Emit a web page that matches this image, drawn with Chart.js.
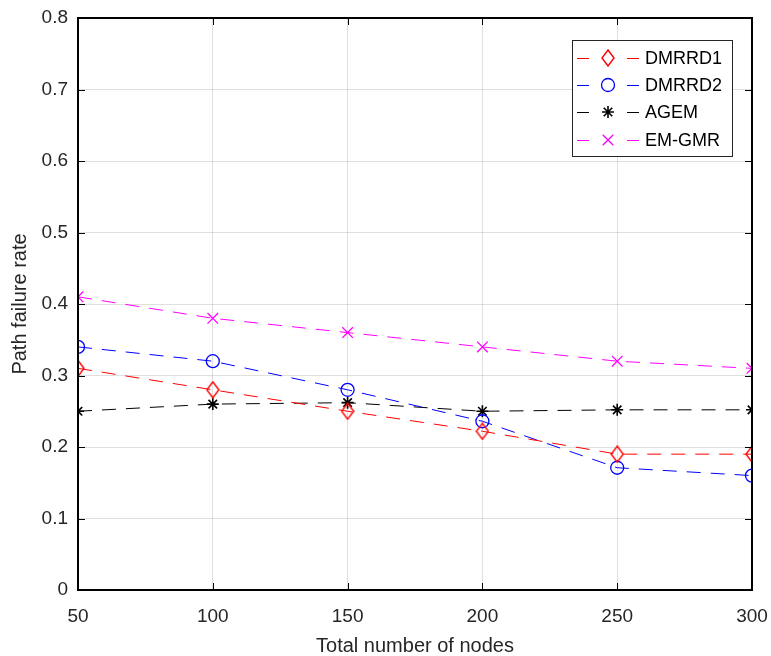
<!DOCTYPE html>
<html>
<head>
<meta charset="utf-8">
<script src="https://cdn.jsdelivr.net/npm/chart.js@4/dist/chart.umd.min.js"></script>
<style>
  html, body { margin: 0; padding: 0; background: #fff; }
  #wrap { width: 771px; height: 656px; }
</style>
</head>
<body>
<div id="wrap"><canvas id="c" width="771" height="656"></canvas></div>
<script>
// Node counts on the x axis
const nodes = [50, 100, 150, 200, 250, 300];

// Path failure rate per routing scheme
const dmrrd1 = [0.31, 0.28, 0.25, 0.222, 0.19, 0.19];
const dmrrd2 = [0.34, 0.32, 0.28, 0.236, 0.171, 0.16];
const agem   = [0.25, 0.26, 0.262, 0.25, 0.252, 0.252];
const emgmr  = [0.41, 0.38, 0.36, 0.34, 0.32, 0.31];

const seriesNames = ['DMRRD1', 'DMRRD2', 'AGEM', 'EM-GMR'];

// Axis tick settings
const xTicks = [50, 100, 150, 200, 250, 300];
const yTicks = [0, 0.1, 0.2, 0.3, 0.4, 0.5, 0.6, 0.7, 0.8];

const FONT = "'Liberation Sans', Arial, Helvetica, sans-serif";
const TEXT = '#262626';

// hollow diamond marker, a bit taller than wide
function diamondMarker(color) {
  const w = 14, h = 18;
  const cv = document.createElement('canvas');
  cv.width = w; cv.height = h;
  const g = cv.getContext('2d');
  g.strokeStyle = color;
  g.lineWidth = 1.4;
  g.beginPath();
  g.moveTo(w / 2, 1);
  g.lineTo(w - 1, h / 2);
  g.lineTo(w / 2, h - 1);
  g.lineTo(1, h / 2);
  g.closePath();
  g.stroke();
  return cv;
}

function pts(ys) { return nodes.map((x, i) => ({ x: x, y: ys[i] })); }

const dash = [14, 10];
const datasets = [
  { label: seriesNames[0], data: pts(dmrrd1), borderColor: '#ff0000', pointStyle: diamondMarker('#ff0000'), pointRadius: 7 },
  { label: seriesNames[1], data: pts(dmrrd2), borderColor: '#0000ff', pointStyle: 'circle', pointRadius: 6.5 },
  { label: seriesNames[2], data: pts(agem),   borderColor: '#000000', pointStyle: 'star', pointRadius: 6, pointBorderWidth: 1.6 },
  { label: seriesNames[3], data: pts(emgmr),  borderColor: '#ff00ff', pointStyle: 'crossRot', pointRadius: 7.5 }
].map(d => Object.assign({
  backgroundColor: 'rgba(0,0,0,0)',
  pointBorderColor: d.borderColor,
  pointBackgroundColor: 'rgba(0,0,0,0)',
  pointBorderWidth: 1.3,
  borderWidth: 1,
  borderDash: dash,
  tension: 0,
  fill: false
}, d));

// Box frame with inward tick marks on all four sides
const framePlugin = {
  id: 'frame',
  afterDatasetsDraw(chart) {
    const { ctx, chartArea: a, scales } = chart;
    const tl = 7;
    ctx.save();
    ctx.strokeStyle = '#000';
    ctx.lineWidth = 1;
    ctx.beginPath();
    xTicks.forEach(v => {
      const px = Math.round(scales.x.getPixelForValue(v)) + 0.5;
      ctx.moveTo(px, a.bottom); ctx.lineTo(px, a.bottom - tl);
      ctx.moveTo(px, a.top); ctx.lineTo(px, a.top + tl);
    });
    yTicks.forEach(v => {
      const py = Math.round(scales.y.getPixelForValue(v)) + 0.5;
      ctx.moveTo(a.left, py); ctx.lineTo(a.left + tl, py);
      ctx.moveTo(a.right, py); ctx.lineTo(a.right - tl, py);
    });
    ctx.stroke();
    ctx.lineWidth = 2;
    ctx.strokeRect(Math.round(a.left), Math.round(a.top), Math.round(a.right - a.left), Math.round(a.bottom - a.top));
    ctx.restore();
  }
};

// Legend box: dash, marker, dash, label
const legendPlugin = {
  id: 'boxLegend',
  afterDraw(chart) {
    const { ctx } = chart;
    const bx = 572, by = 40, bw = 160, bh = 116;
    const rowY = [58, 85, 112, 140];
    ctx.save();
    ctx.fillStyle = '#fff';
    ctx.fillRect(bx, by, bw, bh);
    ctx.strokeStyle = '#262626';
    ctx.lineWidth = 1;
    ctx.strokeRect(bx + 0.5, by + 0.5, bw, bh);
    chart.data.datasets.forEach((ds, i) => {
      const y = rowY[i];
      ctx.strokeStyle = ds.borderColor;
      ctx.lineWidth = 1;
      ctx.setLineDash([]);
      ctx.beginPath();
      ctx.moveTo(577, y + 0.5); ctx.lineTo(589, y + 0.5);
      ctx.moveTo(627, y + 0.5); ctx.lineTo(639, y + 0.5);
      ctx.stroke();
      ctx.strokeStyle = ds.borderColor;
      ctx.fillStyle = 'rgba(0,0,0,0)';
      ctx.lineWidth = ds.pointBorderWidth;
      Chart.helpers.drawPoint(ctx, {
        pointStyle: ds.pointStyle,
        radius: ds.pointRadius,
        borderWidth: ds.pointBorderWidth,
        rotation: 0
      }, 608, y);
      ctx.fillStyle = '#000';
      ctx.font = '18px ' + FONT;
      ctx.textAlign = 'left';
      ctx.textBaseline = 'middle';
      ctx.fillText(ds.label, 645, y + 1);
    });
    ctx.restore();
  }
};

new Chart(document.getElementById('c'), {
  type: 'line',
  data: { datasets: datasets },
  plugins: [framePlugin, legendPlugin],
  options: {
    responsive: false,
    animation: false,
    layout: { padding: { top: 18, right: 19, left: 0, bottom: 0 } },
    plugins: { legend: { display: false }, tooltip: { enabled: false } },
    scales: {
      x: {
        type: 'linear',
        min: 50, max: 300,
        afterBuildTicks: s => { s.ticks = xTicks.map(v => ({ value: v })); },
        afterFit: s => { s.height = 66; s.paddingLeft = 0; s.paddingRight = 0; },
        grid: { color: 'rgba(38,38,38,0.15)', lineWidth: 1, drawTicks: false },
        border: { display: false },
        ticks: { color: TEXT, font: { family: FONT, size: 19 }, padding: 15, maxRotation: 0 },
        title: {
          display: true, text: 'Total number of nodes', color: TEXT,
          font: { family: FONT, size: 20, lineHeight: 1 }, padding: { top: 0, bottom: 0 }
        }
      },
      y: {
        type: 'linear',
        min: 0, max: 0.8,
        afterBuildTicks: s => { s.ticks = yTicks.map(v => ({ value: v })); },
        afterFit: s => { s.width = 78; s.paddingTop = 0; s.paddingBottom = 0; },
        grid: { color: 'rgba(38,38,38,0.15)', lineWidth: 1, drawTicks: false },
        border: { display: false },
        ticks: { color: TEXT, font: { family: FONT, size: 19 }, padding: 10,
                 callback: v => (Math.round(v * 10) / 10).toString() },
        title: {
          display: true, text: 'Path failure rate', color: TEXT,
          font: { family: FONT, size: 20, lineHeight: 1 }, padding: { top: 10, bottom: 0 }
        }
      }
    }
  }
});
</script>
</body>
</html>
